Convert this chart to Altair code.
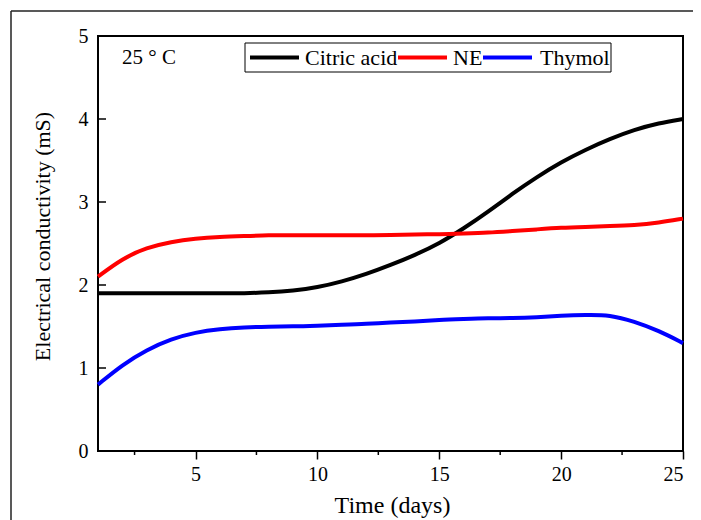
import altair as alt
import pandas as pd

days = list(range(1, 26))
citric = [1.90, 1.90, 1.90, 1.90, 1.90, 1.90, 1.90, 1.91, 1.93, 1.97, 2.04, 2.13, 2.24,
          2.36, 2.50, 2.68, 2.88, 3.10, 3.30, 3.48, 3.63, 3.76, 3.87, 3.95, 4.00]
ne = [2.10, 2.32, 2.45, 2.52, 2.56, 2.58, 2.59, 2.60, 2.60, 2.60, 2.60, 2.60, 2.60,
      2.61, 2.61, 2.62, 2.63, 2.65, 2.67, 2.69, 2.70, 2.71, 2.72, 2.75, 2.80]
thymol = [0.80, 1.04, 1.22, 1.35, 1.43, 1.47, 1.49, 1.50, 1.50, 1.51, 1.52, 1.53, 1.55,
          1.56, 1.58, 1.59, 1.60, 1.60, 1.61, 1.63, 1.64, 1.64, 1.56, 1.45, 1.30]
series_names = ["Citric acid", "NE", "Thymol"]
series_colors = ["#000000", "#ff0000", "#0000ff"]
x_major = [5, 10, 15, 20, 25]
x_minor = [2.5, 7.5, 12.5, 17.5, 22.5]
y_major = [0, 1, 2, 3, 4, 5]
annotation = "25 ° C"

W, H = 585, 415
FONT = "Liberation Serif"

rows = []
for name, vals in zip(series_names, [citric, ne, thymol]):
    for d, v in zip(days, vals):
        rows.append({"day": d, "value": v, "series": name})
df = pd.DataFrame(rows)

xscale = alt.Scale(domain=[1, 25], nice=False, zero=False)
yscale = alt.Scale(domain=[0, 5], nice=False)
cscale = alt.Scale(domain=series_names, range=series_colors)

lines = alt.Chart(df).mark_line(strokeWidth=4, interpolate="basis").encode(
    x=alt.X("day:Q", scale=xscale,
            axis=alt.Axis(values=x_major, format="d", title="Time (days)", ticks=True,
                          tickSize=8, tickWidth=1.5, tickColor="black", labelPadding=5,
                          titleX=294, titleY=54, titleBaseline="middle", titleFontSize=24,
                          titleAlign="center", grid=False, domain=False)),
    y=alt.Y("value:Q", scale=yscale,
            axis=alt.Axis(values=y_major, format="d", title="Electrical conductivity (mS)",
                          ticks=False, tickSize=0, labelPadding=10,
                          titleAngle=270, titleX=-56, titleY=200,
                          titleBaseline="middle", titleAlign="center",
                          grid=False, domain=False)),
    color=alt.Color("series:N", scale=cscale, legend=None),
)

minor_df = pd.DataFrame({"t": x_minor})
minor_ticks = alt.Chart(minor_df).mark_rule(color="black", strokeWidth=1.5).encode(
    x=alt.X("t:Q", scale=xscale),
    y=alt.value(H), y2=alt.value(H + 4),
)

ytick_df = pd.DataFrame({"t": y_major})
y_ticks = alt.Chart(ytick_df).mark_rule(color="black", strokeWidth=1.5).encode(
    y=alt.Y("t:Q", scale=yscale),
    x=alt.value(0), x2=alt.value(8),
)

ann = alt.Chart(pd.DataFrame({"txt": [annotation]})).mark_text(
    font=FONT, fontSize=21, align="left", baseline="alphabetic", color="black"
).encode(text="txt:N", x=alt.value(24), y=alt.value(28))

# manual legend (box, line symbols, labels)
leg_box = alt.Chart(pd.DataFrame({"a": [0]})).mark_rect(
    fill="white", stroke="black", strokeWidth=1
).encode(x=alt.value(147), x2=alt.value(513), y=alt.value(7), y2=alt.value(36))

sym_x = [152, 300, 385]
lab_x = [207, 355, 442]
leg_layers = []
for name, sx, lx in zip(series_names, sym_x, lab_x):
    d = pd.DataFrame({"series": [name]})
    leg_layers.append(
        alt.Chart(d).mark_rule(strokeWidth=4).encode(
            color=alt.Color("series:N", scale=cscale, legend=None),
            x=alt.value(sx), x2=alt.value(sx + 49), y=alt.value(21.5))
    )
    leg_layers.append(
        alt.Chart(d).mark_text(font=FONT, fontSize=22, align="left",
                               baseline="alphabetic", color="black").encode(
            text="series:N", x=alt.value(lx), y=alt.value(29))
    )

frame_top = alt.Chart(pd.DataFrame({"a": [0]})).mark_rule(
    color="#222222", strokeWidth=1.5
).encode(x=alt.value(-87), x2=alt.value(620), y=alt.value(-25))
frame_left = alt.Chart(pd.DataFrame({"a": [0]})).mark_rule(
    color="#222222", strokeWidth=1.5
).encode(x=alt.value(-87), y=alt.value(-25), y2=alt.value(620))

chart = alt.layer(frame_top, frame_left, lines, minor_ticks, y_ticks, ann,
                  leg_box, *leg_layers).properties(
    width=W, height=H,
    autosize=alt.AutoSizeParams(type="none"),
    padding={"left": 90, "top": 28, "right": 10, "bottom": 69},
).configure_view(stroke="black", strokeWidth=2).configure_axis(
    labelFont=FONT, labelFontSize=20, labelColor="black",
    titleFont=FONT, titleFontSize=22, titleColor="black", titleFontWeight="normal",
)

chart.save("out.html", embed_options={"renderer": "svg", "actions": False})
